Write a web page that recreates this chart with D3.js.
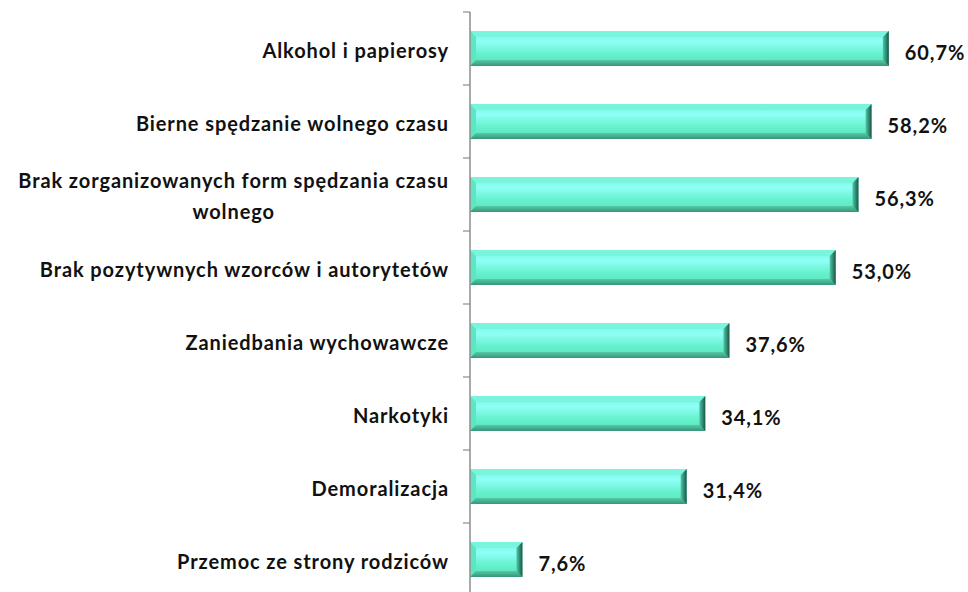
<!DOCTYPE html>
<html>
<head>
<meta charset="utf-8">
<script src="https://cdn.jsdelivr.net/npm/d3@7"></script>
<style>
  body { margin: 0; background: #fff; }
  text { font-family: Lato, "Open Sans", sans-serif; font-weight: bold; fill: #111; letter-spacing: 0.9px; }
</style>
</head>
<body>
<div id="chart"></div>
<script>
const width = 968;
const height = 592;

const categories = [
    'Alkohol i papierosy',
    'Bierne spędzanie wolnego czasu',
    'Brak zorganizowanych form spędzania czasu|wolnego',
    'Brak pozytywnych wzorców i autorytetów',
    'Zaniedbania wychowawcze',
    'Narkotyki',
    'Demoralizacja',
    'Przemoc ze strony rodziców'
]
const values = [60.7, 58.2, 56.3, 53.0, 37.6, 34.1, 31.4, 7.6]

const fmt = (v) => v.toFixed(1).replace('.', ',') + '%'

const svg = d3.select('#chart')
    .append('svg')
    .attr('width', width)
    .attr('height', height)

const axisX = 470
const fontSize = 20

const x = d3.scaleLinear().domain([0, 70]).range([axisX, axisX + 483])
const y = d3.scaleBand().domain(d3.range(categories.length)).range([12, 596]).paddingInner(0.52).paddingOuter(0.26)

// gradients for the bevelled bars
const defs = svg.append('defs')

const face = defs.append('linearGradient')
    .attr('id', 'face').attr('x1', 0).attr('y1', 0).attr('x2', 0).attr('y2', 1)
face.append('stop').attr('offset', '0%').attr('stop-color', '#6ff5da')
face.append('stop').attr('offset', '30%').attr('stop-color', '#90fff7')
face.append('stop').attr('offset', '65%').attr('stop-color', '#66f2cd')
face.append('stop').attr('offset', '100%').attr('stop-color', '#5ae0bb')

const right = defs.append('linearGradient')
    .attr('id', 'right').attr('x1', 0).attr('y1', 0).attr('x2', 1).attr('y2', 0)
right.append('stop').attr('offset', '0%').attr('stop-color', '#4fc9a6')
right.append('stop').attr('offset', '100%').attr('stop-color', '#1a5445')

const bottom = defs.append('linearGradient')
    .attr('id', 'bottom').attr('x1', 0).attr('y1', 0).attr('x2', 0).attr('y2', 1)
bottom.append('stop').attr('offset', '0%').attr('stop-color', '#52cba6')
bottom.append('stop').attr('offset', '100%').attr('stop-color', '#3a9479')

const bars = svg.selectAll('g.bar')
    .data(values)
    .enter()
    .append('g')
    .attr('class', 'bar')

const bev = 6

bars.append('rect')
    .attr('x', axisX)
    .attr('y', (d, i) => y(i))
    .attr('width', (d) => x(d) - axisX)
    .attr('height', y.bandwidth())
    .attr('fill', 'url(#face)')

// top bevel
bars.append('path')
    .attr('d', (d, i) => {
        const x0 = axisX, x1 = x(d), y0 = y(i)
        return `M${x0},${y0}L${x1},${y0}L${x1 - bev},${y0 + bev}L${x0 + bev},${y0 + bev}Z`
    })
    .attr('fill', '#78f5dc')

// left bevel
bars.append('path')
    .attr('d', (d, i) => {
        const x0 = axisX, y0 = y(i), y1 = y(i) + y.bandwidth()
        return `M${x0},${y0}L${x0 + bev},${y0 + bev}L${x0 + bev},${y1 - bev}L${x0},${y1}Z`
    })
    .attr('fill', '#5ee6c3')

// bottom bevel
bars.append('path')
    .attr('d', (d, i) => {
        const x0 = axisX, x1 = x(d), y1 = y(i) + y.bandwidth()
        return `M${x0},${y1}L${x0 + bev},${y1 - bev}L${x1 - bev},${y1 - bev}L${x1},${y1}Z`
    })
    .attr('fill', 'url(#bottom)')

// right bevel
bars.append('path')
    .attr('d', (d, i) => {
        const x1 = x(d), y0 = y(i), y1 = y(i) + y.bandwidth()
        return `M${x1},${y0}L${x1},${y1}L${x1 - bev},${y1 - bev}L${x1 - bev},${y0 + bev}Z`
    })
    .attr('fill', 'url(#right)')

// value labels
bars.append('text')
    .attr('x', (d) => x(d) + 16)
    .attr('y', (d, i) => y(i) + y.bandwidth() / 2 + 11)
    .attr('font-size', fontSize)
    .text((d) => fmt(d))

// axis with ticks on band boundaries
const ticks = d3.range(categories.length + 1).map((i) => 12 + i * y.step())

svg.append('line')
    .attr('x1', axisX).attr('x2', axisX)
    .attr('y1', 12).attr('y2', height)
    .attr('stroke', '#8c8c8c')
    .attr('stroke-width', 1.5)

svg.selectAll('line.tick')
    .data(ticks)
    .enter()
    .append('line')
    .attr('class', 'tick')
    .attr('x1', axisX - 7).attr('x2', axisX)
    .attr('y1', (d) => d).attr('y2', (d) => d)
    .attr('stroke', '#8c8c8c')
    .attr('stroke-width', 1.2)

// category labels (lines split on '|', block centred and right-aligned)
const labels = svg.selectAll('g.label')
    .data(categories)
    .enter()
    .append('g')
    .attr('class', 'label')

labels.each(function (d, i) {
    const g = d3.select(this)
    const lines = d.split('|')
    const lh = 31
    const cy = y(i) + y.bandwidth() / 2
    const texts = lines.map((ln, k) => g.append('text')
        .attr('font-size', fontSize)
        .attr('y', cy + 9 + (k - (lines.length - 1) / 2) * lh)
        .text(ln))
    const w = d3.max(texts, (t) => t.node().getComputedTextLength())
    texts.forEach((t) => t.attr('text-anchor', 'middle').attr('x', 449 - w / 2))
})
</script>
</body>
</html>
